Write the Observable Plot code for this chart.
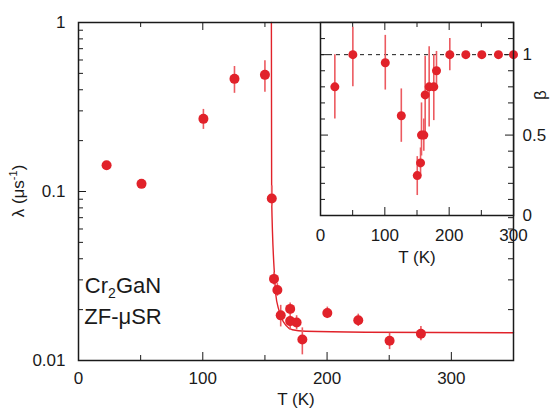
<!DOCTYPE html>
<html>
<head>
<meta charset="utf-8">
<script src="https://cdn.jsdelivr.net/npm/d3@7"></script>
<script src="https://cdn.jsdelivr.net/npm/@observablehq/plot@0.6"></script>
<style>
  html, body { margin: 0; padding: 0; background: white; }
  #wrap { position: relative; width: 552px; height: 408px; }
  #wrap svg { position: absolute; left: 0; top: 0; }
</style>
</head>
<body>
<div id="wrap"></div>
<script>
// ---------- Main panel data: muon relaxation rate lambda vs T ----------
const mainT      = [22.6, 50.7, 100.5, 125.5, 150, 155.5, 157.3, 160, 162.7, 170.3, 170.3, 175.5, 180.1, 200.2, 225.1, 250.3, 275.5];
const mainLambda = [0.143, 0.111, 0.269, 0.464, 0.490, 0.091, 0.0304, 0.0261, 0.0185, 0.0202, 0.0171, 0.0168, 0.0133, 0.0191, 0.0173, 0.0131, 0.0144];
const mainLo     = [0.137, 0.107, 0.233, 0.381, 0.387, 0.082, 0.028, 0.024, 0.0158, 0.019, 0.0151, 0.0152, 0.0108, 0.0177, 0.0159, 0.0116, 0.0131];
const mainHi     = [0.149, 0.115, 0.306, 0.549, 0.593, 0.108, 0.033, 0.0285, 0.0212, 0.0219, 0.0188, 0.0184, 0.0156, 0.0207, 0.0188, 0.0145, 0.0159];

// fitted curve
const fitT      = [155.2, 155.4, 157.8, 158.6, 161.3, 163.5, 166.7, 172.1, 182.8, 231, 350];
const fitLambda = [1.0, 0.091, 0.031, 0.025, 0.0198, 0.0177, 0.0162, 0.0152, 0.0149, 0.0147, 0.0146];

// ---------- Inset data: stretch exponent beta vs T ----------
const insetT  = [22.3, 50.3, 100.7, 125.6, 150.4, 155.5, 157, 160.6, 162.7, 168.9, 176.1, 180.3, 201, 225.9, 250.7, 276.6, 300];
const beta    = [0.80, 1.0, 0.95, 0.62, 0.248, 0.327, 0.50, 0.50, 0.75, 0.80, 0.80, 0.90, 1.0, 1.0, 1.0, 1.0, 1.0];
const betaLo  = [0.60, 0.80, 0.78, 0.455, 0.124, 0.25, 0.37, 0.40, 0.52, 0.55, 0.59, 0.80, 0.90, 1.0, 1.0, 1.0, 1.0];
const betaHi  = [1.0, 1.17, 1.12, 0.787, 0.366, 0.42, 0.70, 0.60, 0.99, 1.05, 1.0, 1.02, 1.10, 1.0, 1.0, 1.0, 1.0];

// ---------- Ticks ----------
const mainXMajor = [0, 100, 200, 300];
const mainXMinor = [50, 150, 250, 350];
const mainYMajor = [0.01, 0.1, 1];
const mainYMinor = [0.02, 0.03, 0.04, 0.05, 0.06, 0.07, 0.08, 0.09, 0.2, 0.3, 0.4, 0.5, 0.6, 0.7, 0.8, 0.9];
const insetXMajor = [0, 100, 200, 300];
const insetXMinor = [50, 150, 250];
const insetYMajor = [0, 0.5, 1];
const insetYMinor = [0.1, 0.2, 0.3, 0.4, 0.6, 0.7, 0.8, 0.9, 1.1];

const FONT = "'Liberation Sans', Arial, Helvetica, sans-serif";
const RED = "#e1222a";
const RED_BAR = "#ec5a60";
const INK = "#1a1a1a";

const mainData = mainT.map((t, i) => ({T: t, v: mainLambda[i], lo: mainLo[i], hi: mainHi[i]}));
const fitData = fitT.map((t, i) => ({T: t, v: fitLambda[i]}));
const insetData = insetT.map((t, i) => ({T: t, b: beta[i], lo: betaLo[i], hi: betaHi[i]}));

const W = 552, H = 408;
const mTop = 22, mBottom = 48, mLeft = 78, mRight = 39;
const fh = H - mTop - mBottom;      // main frame height
const fw = W - mLeft - mRight;      // main frame width

const main = Plot.plot({
  width: W, height: H,
  marginTop: mTop, marginBottom: mBottom, marginLeft: mLeft, marginRight: mRight,
  x: {domain: [0, 350]},
  y: {type: "log", domain: [0.01, 1]},
  style: {fontFamily: FONT, fontSize: "17px", background: "white", color: INK, overflow: "visible"},
  marks: [
    // inward ticks
    Plot.ruleX(mainXMajor, {x: d => d, insetTop: fh - 8, stroke: INK}),
    Plot.ruleX(mainXMinor, {x: d => d, insetTop: fh - 5, stroke: INK}),
    Plot.ruleX(mainXMajor, {x: d => d, insetBottom: fh - 8, stroke: INK}),
    Plot.ruleX(mainXMinor, {x: d => d, insetBottom: fh - 5, stroke: INK}),
    Plot.ruleY(mainYMajor, {y: d => d, insetRight: fw - 8, stroke: INK}),
    Plot.ruleY(mainYMinor, {y: d => d, insetRight: fw - 5, stroke: INK}),
    Plot.ruleY(mainYMajor, {y: d => d, insetLeft: fw - 8, stroke: INK}),
    Plot.ruleY(mainYMinor, {y: d => d, insetLeft: fw - 5, stroke: INK}),
    Plot.axisX(mainXMajor, {tickSize: 0, tickPadding: 11, label: null, fontSize: 17}),
    Plot.axisY(mainYMajor, {tickSize: 0, tickPadding: 13, label: null, fontSize: 17, tickFormat: d => String(d)}),
    Plot.text(["T (K)"], {frameAnchor: "bottom", dy: 39, fontSize: 17, lineAnchor: "middle"}),
    // data
    Plot.line(fitData, {x: "T", y: "v", stroke: RED, strokeWidth: 1.4, curve: "monotone-x"}),
    Plot.ruleX(mainData, {x: "T", y1: "lo", y2: "hi", stroke: RED_BAR, strokeWidth: 1.6}),
    Plot.dot(mainData, {x: "T", y: "v", r: 5, fill: RED}),
    Plot.frame({stroke: INK, strokeWidth: 1.5})
  ]
});

// inset
const iTop = 22, iBottom = H - 215, iLeft = 320, iRight = 39;
const ih = H - iTop - iBottom;
const iw = W - iLeft - iRight;

const inset = Plot.plot({
  width: W, height: H,
  marginTop: iTop, marginBottom: iBottom, marginLeft: iLeft, marginRight: iRight,
  x: {domain: [0, 300]},
  y: {domain: [0, 1.2]},
  style: {fontFamily: FONT, fontSize: "17px", background: "transparent", color: INK, overflow: "visible"},
  marks: [
    Plot.frame({fill: "white", stroke: "none"}),
    Plot.ruleX(insetXMajor, {x: d => d, insetTop: ih - 8, stroke: INK}),
    Plot.ruleX(insetXMinor, {x: d => d, insetTop: ih - 5, stroke: INK}),
    Plot.ruleX(insetXMajor, {x: d => d, insetBottom: ih - 8, stroke: INK}),
    Plot.ruleX(insetXMinor, {x: d => d, insetBottom: ih - 5, stroke: INK}),
    Plot.ruleY(insetYMajor, {y: d => d, insetRight: iw - 8, stroke: INK}),
    Plot.ruleY(insetYMinor, {y: d => d, insetRight: iw - 5, stroke: INK}),
    Plot.ruleY(insetYMajor, {y: d => d, insetLeft: iw - 8, stroke: INK}),
    Plot.ruleY(insetYMinor, {y: d => d, insetLeft: iw - 5, stroke: INK}),
    Plot.axisX(insetXMajor, {tickSize: 0, tickPadding: 13, label: null, fontSize: 17}),
    Plot.axisY(insetYMajor, {anchor: "right", tickSize: 0, tickPadding: 9, label: null, fontSize: 17, tickFormat: d => String(d)}),
    Plot.text(["T (K)"], {frameAnchor: "bottom", dy: 42, fontSize: 17, lineAnchor: "middle"}),
    Plot.ruleY([1], {stroke: INK, strokeDasharray: "4,4", strokeWidth: 1}),
    Plot.ruleX(insetData, {x: "T", y1: "lo", y2: "hi", stroke: RED_BAR, strokeWidth: 1.6}),
    Plot.dot(insetData, {x: "T", y: "b", r: 4.5, fill: RED}),
    Plot.frame({stroke: INK, strokeWidth: 1.5})
  ]
});

const wrap = document.getElementById("wrap");
wrap.appendChild(main);
wrap.appendChild(inset);

// rich text labels (sub/superscripts)
const ms = d3.select(main);
const lab = ms.append("text")
  .attr("transform", "translate(24,191) rotate(-90)")
  .attr("text-anchor", "middle")
  .attr("font-family", FONT).attr("font-size", 17).attr("fill", INK);
lab.append("tspan").text("λ (μs");
lab.append("tspan").attr("font-size", 11).attr("dy", -7).text("-1");
lab.append("tspan").attr("dy", 7).text(")");

const t1 = ms.append("text").attr("x", 123).attr("y", 293)
  .attr("font-family", FONT).attr("font-size", 22).attr("fill", INK);
t1.append("tspan").text("Cr");
t1.append("tspan").attr("font-size", 14).attr("dy", 5).text("2");
t1.append("tspan").attr("dy", -5).text("GaN");
ms.append("text").attr("x", 123).attr("y", 324)
  .attr("font-family", FONT).attr("font-size", 22).attr("fill", INK)
  .text("ZF-μSR");

d3.select(inset).append("text")
  .attr("transform", "translate(546,95) rotate(-90)")
  .attr("text-anchor", "middle")
  .attr("font-family", FONT).attr("font-size", 17).attr("fill", INK)
  .text("β");
</script>
</body>
</html>
